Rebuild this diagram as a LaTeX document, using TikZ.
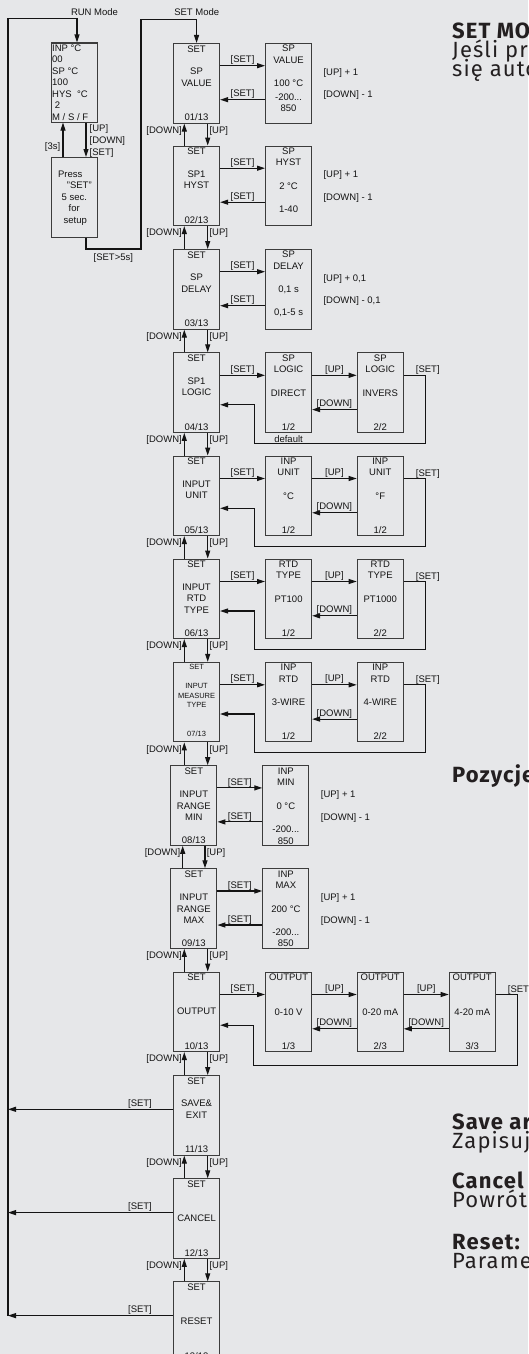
\documentclass[tikz,border=0pt]{standalone}
\usepackage{fontspec}
\setmainfont{Liberation Sans}
\newfontfamily\fira[LetterSpace=5]{Fira Sans}
\usetikzlibrary{calc,arrows.meta}
\definecolor{bg}{RGB}{230,231,233}
\definecolor{ink}{RGB}{20,20,20}
\definecolor{boxc}{RGB}{60,60,60}
\definecolor{rtext}{RGB}{35,31,32}
\newcommand\tdots{...}
\tikzset{
 mbox/.style={draw=boxc, line width=1.1pt, anchor=north west, minimum width=46pt, minimum height=79.5pt, inner sep=0pt},
 tx/.style={anchor=base, inner sep=0pt, font=\fontsize{9.5}{11.5}\selectfont, text=ink},
 txs/.style={tx, font=\fontsize{7.5}{9}\selectfont},
 lab/.style={tx, anchor=south, inner sep=0.3pt},
 arr/.style={draw=ink, line width=1.1pt, -{Triangle[length=8pt,width=5pt]}},
 big/.style={anchor=base west, inner sep=0pt, font=\fira\fontsize{22}{22}\selectfont, text=rtext},
 bigb/.style={anchor=base west, inner sep=0pt, font=\fira\bfseries\fontsize{22}{22}\selectfont, text=rtext},
}
% style, point, first base, spacing, list
\newcommand\ml[5]{\foreach \mlt [count=\mli from 0] in {#5} {\node[#1] at ($(#2)+(0,#3+#4*\mli)$) {\mlt};}}
% name, x, top, middle list, middle first base, index
\newcommand\mainb[6]{%
  \node[mbox] (#1) at (#2,#3) {};
  \node[tx] at ($(#1.north)+(0,9.1)$) {SET};
  \ml{tx}{#1.north}{#5}{11.5}{#4}
  \node[tx] at ($(#1.north)+(0,77.9)$) {#6};}
% name, x, top, titles, value, range list, range first base
\newcommand\valb[7]{%
  \node[mbox] (#1) at (#2,#3) {};
  \ml{tx}{#1.north}{8.9}{11.5}{#4}
  \node[tx] at ($(#1.north)+(0,43.9)$) {#5};
  \ml{tx}{#1.north}{#7}{11.5}{#6}}
% name, x, top, titles, value, index
\newcommand\optb[6]{%
  \node[mbox] (#1) at (#2,#3) {};
  \ml{tx}{#1.north}{9.1}{11.3}{#4}
  \node[tx] at ($(#1.north)+(0,43.7)$) {#5};
  \node[tx] at ($(#1.north)+(0,78.1)$) {#6};}
% main, value box, up text, down text
\newcommand\valarr[4]{%
  \draw[arr] ($(#1.north east)+(0,22.7)$) -- ($(#2.north west)+(0,22.7)$) node[lab,midway]{[SET]};
  \draw[arr] ($(#2.north west)+(0,56.7)$) -- ($(#1.north east)+(0,56.7)$) node[lab,midway]{[SET]};
  \node[tx,anchor=base west] at ($(#2.north east)+(11.3,32.1)$) {#3};
  \node[tx,anchor=base west] at ($(#2.north east)+(11.3,54.9)$) {#4};}
% from, to, label
\newcommand\fwd[3]{\draw[arr] ($(#1.north east)+(0,23)$) -- ($(#2.north west)+(0,23)$) node[lab,midway]{#3};}
\newcommand\back[2]{\draw[arr] ($(#1.north west)+(0,57.3)$) -- ($(#2.north east)+(0,57.3)$) node[lab,midway]{[DOWN]};}
% last option, corner coord, main, return x offset, return y
\newcommand\ret[5]{%
  \draw[arr] ($(#1.north east)+(0,23)$) -| (#2) -| ($(#3.north east)+(#4,#5)$) -- ($(#3.north east)+(0,#5)$);
  \node[lab] at ($(#1.north east)+(24,23)$) {[SET]};}
\begin{document}
\begin{tikzpicture}[x=1pt,y=-1pt]
\fill[bg] (0,0) rectangle (528,1354);
\useasboundingbox (0,0) rectangle (528,1354);
\clip (0,0) rectangle (528,1354);

% ---------- RUN side ----------
\node[tx] at (94.5,15.1) {RUN Mode};
\node[tx] at (196.7,15.1) {SET Mode};
\node[mbox, minimum height=79pt] (run) at (51,42.5) {};
\foreach \t [count=\i from 0] in {INP °C,00,SP °C,100,HYS\ \ °C,\ 2,M / S / F}
  {\node[tx,anchor=base west] at ($(run.north west)+(1,8.9+11.5*\i)$) {\t};}
\node[mbox] (press) at (51,157) {};
\node[tx] at (70.3,177.7) {Press};
\node[tx] at (79.3,188.4) {"SET"};
\node[tx] at (74.3,200.1) {5 sec.};
\node[tx] at (74.2,211.7) {for};
\node[tx] at (75.3,223.4) {setup};
\draw[arr] (63,0 |- press.north) -- (63,0 |- run.south);
\draw[arr] (86,0 |- run.south) -- (86,0 |- press.north);
\node[tx,anchor=base east] at (60.5,149.4) {[3s]};
\node[tx,anchor=base west] at (89.5,131.7) {[UP]};
\node[tx,anchor=base west] at (89.5,143.2) {[DOWN]};
\node[tx,anchor=base west] at (89.5,155.1) {[SET]};

% ---------- main column ----------
\mainb{m1}{173}{43}{SP,VALUE}{31.9}{01/13}
\mainb{m2}{173}{145.5}{SP1,HYST}{31.9}{02/13}
\mainb{m3}{173}{249}{SP,DELAY}{31.9}{03/13}
\mainb{m4}{173}{352.3}{SP1,LOGIC}{31.9}{04/13}
\mainb{m5}{173}{455.5}{INPUT,UNIT}{31.9}{05/13}
\mainb{m6}{173}{558.5}{INPUT,RTD,TYPE}{31.9}{06/13}
\node[mbox] (m7) at (173,661.8) {};
\node[txs] at ($(m7.north)+(0,7.7)$) {SET};
\ml{txs}{m7.north}{26.7}{9.7}{INPUT,MEASURE,TYPE}
\node[txs] at ($(m7.north)+(0,74.3)$) {07/13};
\mainb{m8}{170.3}{765.2}{INPUT,RANGE,MIN}{32.4}{08/13}
\mainb{m9}{170.3}{868.3}{INPUT,RANGE,MAX}{32.4}{09/13}
\mainb{m10}{173}{971.5}{OUTPUT}{43.4}{10/13}
\mainb{m11}{173}{1075}{SAVE\&,EXIT}{31.7}{11/13}
\mainb{m12}{173}{1178.3}{CANCEL}{43.4}{12/13}
\mainb{m13}{173}{1281.3}{RESET}{43.4}{13/13}

\foreach \a/\b/\xd/\xu in {m1/m2/184.3/207.7, m2/m3/184.3/207.7, m3/m4/184.3/207.7,
  m4/m5/184.3/207.7, m5/m6/184.3/207.7, m6/m7/184.3/207.7, m7/m8/184.3/207.7,
  m8/m9/182.7/205, m9/m10/184.3/207.7, m10/m11/184.3/207.7, m11/m12/184.3/207.7, m12/m13/184.3/207.7}{
  \draw[arr] (\xd,0 |- \b.north) -- (\xd,0 |- \a.south);
  \draw[arr] (\xu,0 |- \a.south) -- (\xu,0 |- \b.north);
  \node[tx,anchor=base east] at ($(\xd,0 |- \a.south)+(-2.3,9.7)$) {[DOWN]};
  \node[tx,anchor=base west] at ($(\xu,0 |- \a.south)+(1.6,9.7)$) {[UP]};
}

% ---------- left loop ----------
\coordinate (Ltop) at (8,18.3);
\coordinate (Lbot) at (8,1315.6);
\draw[arr] (Lbot) -- (Ltop) -| (77,0 |- run.north);
\draw[arr] (86,0 |- press.south) -- (86,249) -| (141,19.3) -| (m1.north);
\node[tx] at (113.3,260.4) {[SET>5s]};
\foreach \m in {m11,m12,m13}{
  \draw[arr] ($(\m.north west)+(0,34.3)$) coordinate (s\m) -- (s\m -| Ltop) node[lab,pos=0.2]{[SET]};
}

% ---------- value rows ----------
\valb{v1}{265}{43}{SP,VALUE}{100 °C}{-200\tdots,850}{57.1}
\valarr{m1}{v1}{[UP] + 1}{[DOWN] - 1}
\valb{v2}{265}{145.5}{SP,HYST}{2 °C}{1-40}{67.4}
\valarr{m2}{v2}{[UP] + 1}{[DOWN] - 1}
\valb{v3}{265}{249}{SP,DELAY}{0,1 s}{{0,1-5 s}}{66.1}
\valarr{m3}{v3}{[UP] + 0,1}{[DOWN] - 0,1}
\valb{v8}{262.3}{765.2}{INP,MIN}{0 °C}{-200\tdots,850}{67.4}
\valarr{m8}{v8}{[UP] + 1}{[DOWN] - 1}
\valb{v9}{262.3}{868.3}{INP,MAX}{200 °C}{-200\tdots,850}{67.1}
\valarr{m9}{v9}{[UP] + 1}{[DOWN] - 1}

% ---------- option rows ----------
\optb{o41}{265}{352.3}{SP,LOGIC}{DIRECT}{1/2}
\optb{o42}{356.7}{352.3}{SP,LOGIC}{INVERS}{2/2}
\node[tx] at ($(o41.south)+(0,10)$) {default};
\fwd{m4}{o41}{[SET]} \fwd{o41}{o42}{[UP]} \back{o42}{o41}
\coordinate (r4) at (425.7,443.3);
\ret{o42}{r4}{m4}{34.3}{52.5}

\optb{o51}{265}{455.5}{INP,UNIT}{°C}{1/2}
\optb{o52}{356.7}{455.5}{INP,UNIT}{°F}{1/2}
\fwd{m5}{o51}{[SET]} \fwd{o51}{o52}{[UP]} \back{o52}{o51}
\coordinate (r5) at (425.7,546.8);
\ret{o52}{r5}{m5}{34.3}{52.8}

\optb{o61}{265}{558.5}{RTD,TYPE}{PT100}{1/2}
\optb{o62}{356.7}{558.5}{RTD,TYPE}{PT1000}{2/2}
\fwd{m6}{o61}{[SET]} \fwd{o61}{o62}{[UP]} \back{o62}{o61}
\coordinate (r6) at (425.7,649.8);
\ret{o62}{r6}{m6}{34.3}{52.5}

\optb{o71}{265}{661.8}{INP,RTD}{3-WIRE}{1/2}
\optb{o72}{356.7}{661.8}{INP,RTD}{4-WIRE}{2/2}
\fwd{m7}{o71}{[SET]} \fwd{o71}{o72}{[UP]} \back{o72}{o71}
\coordinate (r7) at (425.7,752.6);
\ret{o72}{r7}{m7}{34.3}{52.2}

\optb{o101}{265}{971.5}{OUTPUT}{0-10 V}{1/3}
\optb{o102}{356.7}{971.5}{OUTPUT}{0-20 mA}{2/3}
\optb{o103}{448.7}{971.5}{OUTPUT}{4-20 mA}{3/3}
\fwd{m10}{o101}{[SET]} \fwd{o101}{o102}{[UP]} \fwd{o102}{o103}{[UP]}
\back{o102}{o101} \back{o103}{o102}
\coordinate (r10) at (517.3,1065.5);
\ret{o103}{r10}{m10}{33.3}{53.7}

% ---------- right-hand text ----------
\node[bigb] at (452,38) {SET MO};
\node[big] at (452,57) {Jeśli pr};
\node[big] at (452,76) {się auto};
\node[bigb] at (452,782) {Pozycje};
\node[bigb] at (452,1129) {Save ar};
\node[big] at (452,1148) {Zapisuj};
\node[bigb] at (452,1188) {Cancel};
\node[big] at (452,1207) {Powrót};
\node[bigb] at (452,1249) {Reset:};
\node[big] at (452,1268) {Parame};
\end{tikzpicture}
\end{document}
